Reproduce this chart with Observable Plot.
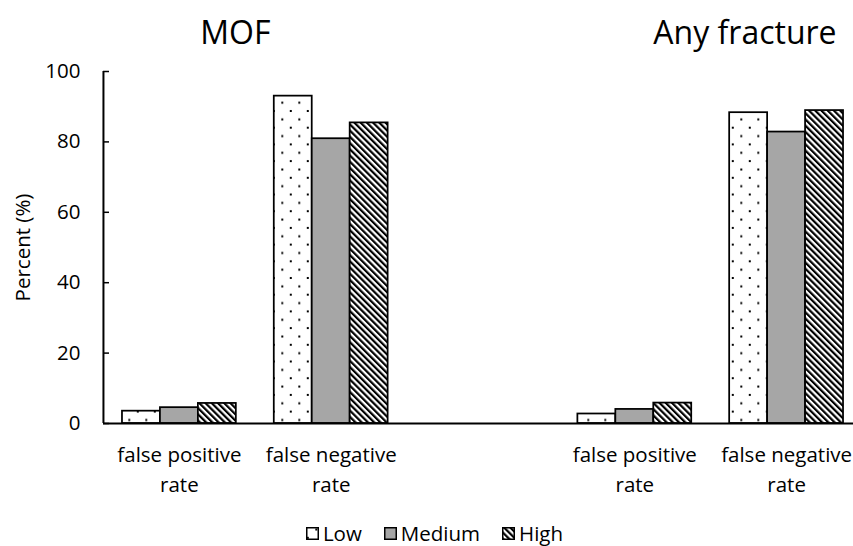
<!DOCTYPE html>
<html><head><meta charset="utf-8">
<script src="https://cdn.jsdelivr.net/npm/d3@7"></script>
<script src="https://cdn.jsdelivr.net/npm/@observablehq/plot@0.6"></script>
<style>
body{margin:0;background:#fff;font-family:"Open Sans",sans-serif;}
#chart{width:853px;height:546px;position:relative;overflow:hidden;background:#fff;}
#chart > svg{position:absolute;left:0;top:0;}
#legend{position:absolute;left:0;top:523px;width:853px;height:20px;display:flex;justify-content:center;align-items:center;padding-left:16px;box-sizing:border-box;font-size:20.5px;line-height:1;color:#000;}
.item{display:flex;align-items:center;margin:0 11px;}
.item svg{margin-right:4px;display:block;}
</style></head><body>
<svg width="0" height="0" style="position:absolute">
<defs>
<pattern id="dots" patternUnits="userSpaceOnUse" width="17" height="16.7">
 <rect width="17" height="16.7" fill="white"/>
 <rect x="9.3" y="1.5" width="2" height="2" fill="black"/>
 <rect x="0.8" y="9.8" width="2" height="2" fill="black"/>
</pattern>
<pattern id="hatch" patternUnits="userSpaceOnUse" width="4.4" height="4.4" patternTransform="rotate(-45)">
 <rect width="4.4" height="4.4" fill="white"/>
 <rect width="2.2" height="4.4" fill="black"/>
</pattern>
</defs></svg>
<div id="chart"><div id="legend"></div></div>
<script>
// ---- data ----
const levels = ["Low", "Medium", "High"];
const panelTitles = ["MOF", "Any fracture"];
const measureLabels = ["false positive\nrate", "false negative\nrate"];
const mofFalsePositive = [3.5, 4.5, 5.7];
const mofFalseNegative = [93.0, 80.9, 85.4];
const anyFalsePositive = [2.7, 4.0, 5.8];
const anyFalseNegative = [88.3, 82.8, 88.9];
const yTicks = [0, 20, 40, 60, 80, 100];
const yAxisLabel = "Percent (%)";

// ---- build ----
const groups = [
  {id: "mof-fp", label: measureLabels[0], values: mofFalsePositive},
  {id: "mof-fn", label: measureLabels[1], values: mofFalseNegative},
  {id: "gap", label: "", values: null},
  {id: "any-fp", label: measureLabels[0], values: anyFalsePositive},
  {id: "any-fn", label: measureLabels[1], values: anyFalseNegative}
];
const domain = [];
groups.forEach((g, i) => {
  if (i) domain.push(`spacer${i}`);
  levels.forEach(l => domain.push(`${g.id}|${l}`));
});
const rows = groups.filter(g => g.values).flatMap(g =>
  levels.map((l, j) => ({key: `${g.id}|${l}`, level: l, value: g.values[j]})));
const fills = {Low: "url(#dots)", Medium: "#a6a6a6", High: "url(#hatch)"};

const W = 853, H = 515, ML = 103, MT = 71, MB = 92;
const fs = 20.5;

const barMarks = levels.map(l => Plot.barY(rows.filter(r => r.level === l), {
  x: "key", y: "value", fill: fills[l], stroke: "black", strokeWidth: 1.75
}));

const chart = Plot.plot({
  width: W, height: H,
  marginLeft: ML, marginRight: 0, marginTop: MT, marginBottom: MB,
  style: {fontFamily: "'Open Sans'", fontSize: fs + "px", color: "black", background: "white", overflow: "visible"},
  x: {type: "band", domain, range: [ML, 862], paddingInner: 0, paddingOuter: 0.5, round: false, axis: null},
  y: {domain: [0, 100]},
  marks: [
    ...barMarks,
    Plot.axisY({ticks: yTicks, tickSize: 0, tickPadding: 23, fontSize: fs, label: null, tickFormat: d => String(d)}),
    Plot.ruleY(yTicks, {strokeWidth: 1.5, insetRight: W - ML - 6}),
    Plot.ruleX([domain[0]], {y1: 0, y2: 100, dx: -38, strokeWidth: 2}),
    Plot.ruleY([0], {strokeWidth: 2}),
    Plot.text(groups.filter(g => g.values), {
      x: g => `${g.id}|Medium`, text: "label", frameAnchor: "bottom",
      lineAnchor: "top", lineHeight: 1.44, dy: 18, fontSize: fs
    }),
    Plot.text([panelTitles[0]], {x: () => "mof-fp|High", frameAnchor: "top", lineAnchor: "bottom", dy: -28, dx: 18, fontSize: 32}),
    Plot.text([panelTitles[1]], {x: () => "any-fn|Low", frameAnchor: "top", lineAnchor: "bottom", dy: -28, dx: -3.7, fontSize: 32}),
    Plot.text([yAxisLabel], {frameAnchor: "left", textAnchor: "middle", rotate: -90, dx: -80, dy: 0, fontSize: fs})
  ]
});
const host = document.getElementById("chart");
host.insertBefore(chart, host.firstChild);

// ---- legend ----
const legend = document.getElementById("legend");
levels.forEach(l => {
  const item = document.createElement("div");
  item.className = "item";
  item.innerHTML = `<svg width="13" height="13"><rect x="0.75" y="0.75" width="11.5" height="11.5" fill="${fills[l]}" stroke="black" stroke-width="1.5"/></svg><span>${l}</span>`;
  legend.appendChild(item);
});
</script>
</body></html>
